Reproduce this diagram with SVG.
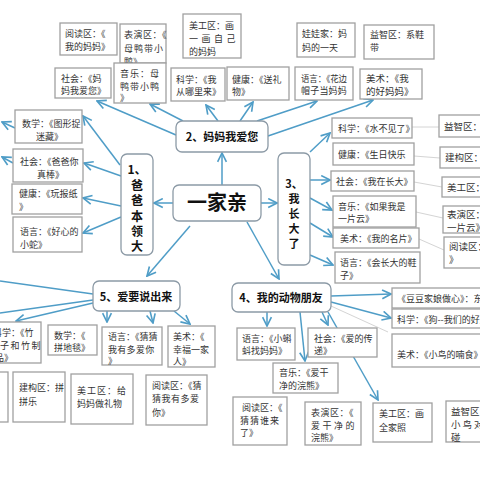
<svg xmlns="http://www.w3.org/2000/svg" width="480" height="480" viewBox="0 0 480 480">
<style>
.b{fill:#fff;stroke:#a0a0a0;stroke-width:1.3}
.n{fill:#fff;stroke:#8c9aa6;stroke-width:1.3}
text{font-family:"Noto Sans CJK SC","Liberation Sans",sans-serif;font-size:9px;fill:#333}
text.s10{font-size:9.5px}
text.h{font-size:11px;font-weight:bold;fill:#111}
text.v{font-size:12px;font-weight:bold;fill:#111;text-anchor:middle}
text.v3{font-size:11px;font-weight:bold;fill:#111;text-anchor:middle}
text.big{font-size:20px;font-weight:bold;fill:#111;text-anchor:middle}
.c{stroke:#4f9dc7;stroke-width:1.5;fill:none;marker-end:url(#a)}
.l{stroke:#4f9dc7;stroke-width:1.5;fill:none}
.f{stroke:#d4d4d4;stroke-width:1;fill:none}
</style>
<defs>
<marker id="a" viewBox="0 0 10 10" refX="9" refY="5" markerWidth="11" markerHeight="11" markerUnits="userSpaceOnUse" orient="auto">
<path d="M1,1 L9,5 L1,9" fill="none" stroke="#4f9dc7" stroke-width="1.5"/>
</marker>
</defs>
<rect width="480" height="480" fill="#fff"/>
<g id="connectors">
<path class="c" d="M222,185 L222,153"/>
<path class="c" d="M173,203 L154,203"/>
<path class="c" d="M261,203 L277,203"/>
<path class="c" d="M247,222 L279,279"/>
<path class="c" d="M190,226 L147,276"/>
<path class="c" d="M176,135 L97,101"/>
<path class="c" d="M183,121 L150,104"/>
<path class="c" d="M218,121 L206,105"/>
<path class="c" d="M240,121 L253,102"/>
<path class="c" d="M257,121 L317,101"/>
<path class="c" d="M268,136 L373,100"/>
<path class="c" d="M120,165 L83,116"/>
<path class="c" d="M121,176 L84,163"/>
<path class="c" d="M121,206 L83,198"/>
<path class="c" d="M121,217 L83,233"/>
<path class="c" d="M15,128 L2,122"/>
<path class="c" d="M13,163 L2,157"/>
<path class="c" d="M310,152 L330,133"/>
<path class="c" d="M310,180 L330,180"/>
<path class="c" d="M310,198 L332,210"/>
<path class="c" d="M310,223 L333,237"/>
<path class="c" d="M310,255 L333,265"/>
<path class="f" d="M412,127 L439,127"/>
<path class="f" d="M414,156 L440,158"/>
<path class="f" d="M414,182 L442,187"/>
<path class="f" d="M416,212 L443,218"/>
<path class="f" d="M419,239 L444,250"/>
<path class="c" d="M331,296 L391,294"/>
<path class="c" d="M331,302 L391,318"/>
<path class="f" d="M331,306 L388,332"/>
<path class="c" d="M267,312 L267,326"/>
<path class="c" d="M322,312 L328,325"/>
<path class="c" d="M300,312 L305,361"/>
<path class="c" d="M328,312 L378,400"/>
<path class="l" d="M93,294 L0,281"/>
<path class="l" d="M93,300 L0,313"/>
<path class="c" d="M93,303 L16,321"/>
<path class="c" d="M107,311 L107,322"/>
<path class="c" d="M150,311 L153,323"/>
<path class="c" d="M174,311 L190,324"/>
</g>

<g id="n-yuedu1"><rect class="b" x="60" y="23" width="57" height="32"/><text x="65" y="37">阅读区：《</text><text x="65" y="50">我的妈妈》</text></g>
<g id="n-biaoyan1"><rect class="b" x="120" y="24" width="46" height="39"/><text x="124" y="38" letter-spacing="0.5">表演区：《</text><text x="124" y="52" letter-spacing="1">母鸭带小</text><text x="124" y="65">鸭》</text></g>
<g id="n-meigong1"><rect class="b" x="183" y="14" width="58" height="44"/><text x="189" y="29">美工区：画</text><text x="189" y="42" letter-spacing="3.5">一画自己</text><text x="189" y="55">的妈妈</text></g>
<g id="n-wawa"><rect class="b" x="297" y="23" width="58" height="34"/><text x="302" y="37">娃娃家：妈</text><text x="302" y="51">妈的一天</text></g>
<g id="n-yizhi1"><rect class="b" x="364" y="25" width="70" height="34"/><text x="370" y="38">益智区：系鞋</text><text x="370" y="51">带</text></g>

<g id="n-shehui1"><rect class="b" x="55" y="68" width="56" height="30"/><text x="61" y="82">社会：《妈</text><text x="61" y="94">妈我爱您》</text></g>
<g id="n-yinyue1"><rect class="b" x="114" y="63" width="52" height="40"/><text x="120" y="77" letter-spacing="1">音乐：母</text><text x="120" y="90" letter-spacing="1">鸭带小鸭</text><text x="120" y="101">》</text></g>
<g id="n-kexue1"><rect class="b" x="171" y="68" width="54" height="33"/><text x="176" y="83">科学：《我</text><text x="176" y="95">从哪里来》</text></g>
<g id="n-jiankang1"><rect class="b" x="227" y="67" width="62" height="33"/><text x="232" y="83">健康：《送礼</text><text x="232" y="95">物》</text></g>
<g id="n-yuyan1"><rect class="b" x="295" y="67" width="58" height="33"/><text x="301" y="82" textLength="46" lengthAdjust="spacingAndGlyphs">语言：《花边</text><text x="301" y="94" letter-spacing="0.2">帽子当妈妈</text></g>
<g id="n-meishu1"><rect class="b" x="360" y="69" width="62" height="30"/><text class="s10" x="366" y="82">美术：《我</text><text class="s10" x="366" y="95">的好妈妈》</text></g>

<g id="n2"><rect class="n" x="176" y="121" width="92" height="31" rx="6"/><text class="h" x="222" y="141" text-anchor="middle">2、妈妈我爱您</text></g>
<g id="n1"><rect class="n" x="121" y="154" width="32" height="101" rx="6"/>
<text class="v" x="137" y="174">1、</text><text class="v" x="137" y="190">爸</text><text class="v" x="137" y="205">爸</text><text class="v" x="137" y="221">本</text><text class="v" x="137" y="236">领</text><text class="v" x="137" y="251">大</text></g>
<g id="n0"><rect class="n" x="173" y="185" width="88" height="36" rx="6"/><text class="big" x="217" y="210">一家亲</text></g>
<g id="n3"><rect class="n" x="278" y="153" width="32" height="112" rx="6"/>
<text class="v3" x="294" y="188">3、</text><text class="v3" x="294" y="203">我</text><text class="v3" x="294" y="218">长</text><text class="v3" x="294" y="233">大</text><text class="v3" x="294" y="248">了</text></g>

<g id="n-shuxue1"><rect class="b" x="15" y="110" width="67" height="33"/><text x="22" y="127">数学：《图形捉</text><text x="36" y="140">迷藏》</text></g>
<g id="n-shehui2"><rect class="b" x="13" y="149" width="70" height="33"/><text x="20" y="165">社会：《爸爸你</text><text x="37" y="178">真棒》</text></g>
<g id="n-jiankang2"><rect class="b" x="12" y="184" width="70" height="30"/><text x="19" y="197">健康：《玩报纸</text><text x="19" y="210">》</text></g>
<g id="n-yuyan2"><rect class="b" x="13" y="217" width="69" height="35"/><text x="20" y="235">语言：《好心的</text><text x="20" y="248">小蛇》</text></g>

<g id="n-kexue3"><rect class="b" x="332" y="118" width="80" height="20"/><text x="338" y="132">科学：《水不见了》</text></g>
<g id="n-jiankang3"><rect class="b" x="333" y="143" width="81" height="22"/><text x="338" y="158">健康：《生日快乐</text></g>
<g id="n-shehui3"><rect class="b" x="331" y="171" width="83" height="20"/><text x="336" y="185">社会：《我在长大》</text></g>
<g id="n-yinyue3"><rect class="b" x="333" y="196" width="83" height="31"/><text x="338" y="210">音乐：《如果我是</text><text x="338" y="222">一片云》</text></g>
<g id="n-meishu3"><rect class="b" x="333" y="228" width="86" height="20"/><text x="340" y="242">美术：《我的名片》</text></g>
<g id="n-yuyan3"><rect class="b" x="335" y="252" width="85" height="31"/><text x="340" y="266">语言：《会长大的鞋</text><text x="340" y="279">子》</text></g>

<g id="n-yizhi3"><rect class="b" x="439" y="115" width="50" height="22"/><text class="s10" x="444" y="130">益智区：</text></g>
<g id="n-jiangou3"><rect class="b" x="440" y="147" width="50" height="21"/><text class="s10" x="445" y="161">建构区：</text></g>
<g id="n-meigong3"><rect class="b" x="442" y="177" width="50" height="20"/><text class="s10" x="447" y="191">美工区：</text></g>
<g id="n-biaoyan3"><rect class="b" x="443" y="206" width="50" height="27"/><text class="s10" x="447" y="218">表演区：</text><text class="s10" x="447" y="231">一片云》</text></g>
<g id="n-yuedu3"><rect class="b" x="444" y="237" width="50" height="31"/><text class="s10" x="449" y="250">阅读区：</text><text class="s10" x="449" y="263">》</text></g>

<g id="n4"><rect class="n" x="232" y="283" width="99" height="29" rx="6"/><text class="h" x="281" y="302" text-anchor="middle">4、我的动物朋友</text></g>
<g id="n5"><rect class="n" x="93" y="281" width="87" height="30" rx="6"/><text class="h" x="136" y="301" text-anchor="middle">5、爱要说出来</text></g>

<g id="n-doudou"><rect class="b" x="392" y="288" width="100" height="20"/><text x="397" y="302">《豆豆家娘做心》：东</text></g>
<g id="n-kexue4"><rect class="b" x="392" y="309" width="100" height="19"/><text x="397" y="323">科学：《狗--我们的好朋友</text></g>
<g id="n-meishu4"><rect class="b" x="392" y="334" width="100" height="33"/><text x="397" y="358">美术：《小鸟的喃食》</text></g>
<g id="n-yuyan4"><rect class="b" x="237" y="328" width="58" height="32"/><text x="242" y="342">语言：《小蝌</text><text x="242" y="354">蚪找妈妈》</text></g>
<g id="n-shehui4"><rect class="b" x="308" y="328" width="69" height="29"/><text x="314" y="342">社会：《爱的传</text><text x="314" y="354">递》</text></g>
<g id="n-yinyue4"><rect class="b" x="273" y="363" width="65" height="30"/><text x="279" y="376">音乐：《爱干</text><text x="279" y="389">净的浣熊》</text></g>

<g id="n-kexue5"><rect class="b" x="-20" y="322" width="61" height="41"/><text x="-7" y="336">科学：《竹</text><text x="0" y="349" letter-spacing="1.5">子和竹制</text><text x="-5" y="361">品》</text></g>
<g id="n-shuxue5"><rect class="b" x="48" y="325" width="49" height="30"/><text x="54" y="339">数学：《</text><text x="54" y="351">拼地毯》</text></g>
<g id="n-yuyan5"><rect class="b" x="102" y="327" width="60" height="38"/><text x="108" y="340">语言：《猜猜</text><text x="108" y="353" letter-spacing="0.3">我有多爱你</text><text x="108" y="364">》</text></g>
<g id="n-meishu5"><rect class="b" x="168" y="326" width="47" height="41"/><text x="173" y="340">美术：《</text><text x="173" y="353">幸福一家</text><text x="173" y="365">人》</text></g>

<g id="n-cut5"><rect class="b" x="-40" y="372" width="48" height="50"/></g>
<g id="n-jiangou5"><rect class="b" x="13" y="372" width="52" height="50"/><text x="19" y="391">建构区：拼</text><text x="19" y="405">拼乐</text></g>
<g id="n-meigong5"><rect class="b" x="71" y="374" width="62" height="50"/><text x="77" y="394" letter-spacing="1">美工区：给</text><text x="77" y="407">妈妈做礼物</text></g>
<g id="n-yuedu5"><rect class="b" x="146" y="375" width="61" height="50"/><text x="152" y="389">阅读区：《猜</text><text x="152" y="402" letter-spacing="0.5">猜我有多爱</text><text x="152" y="416">你》</text></g>
<g id="n-yuedu4"><rect class="b" x="233" y="397" width="54" height="48"/><text x="242" y="411">阅读区：《</text><text x="240" y="424" letter-spacing="1">猜猜谁来</text><text x="240" y="436">了》</text></g>
<g id="n-biaoyan4"><rect class="b" x="305" y="402" width="56" height="43"/><text x="311" y="416" letter-spacing="0.5">表演区：《</text><text x="311" y="429" letter-spacing="2.5">爱干净的</text><text x="311" y="441">浣熊》</text></g>
<g id="n-meigong4"><rect class="b" x="373" y="403" width="59" height="39"/><text x="379" y="417">美工区：画</text><text x="379" y="431">全家照</text></g>
<g id="n-yizhi4"><rect class="b" x="446" y="401" width="60" height="41"/><text class="s10" x="451" y="415">益智区：</text><text class="s10" x="451" y="428" letter-spacing="2">小鸟对对</text><text class="s10" x="451" y="441">碰</text></g>
</svg>
